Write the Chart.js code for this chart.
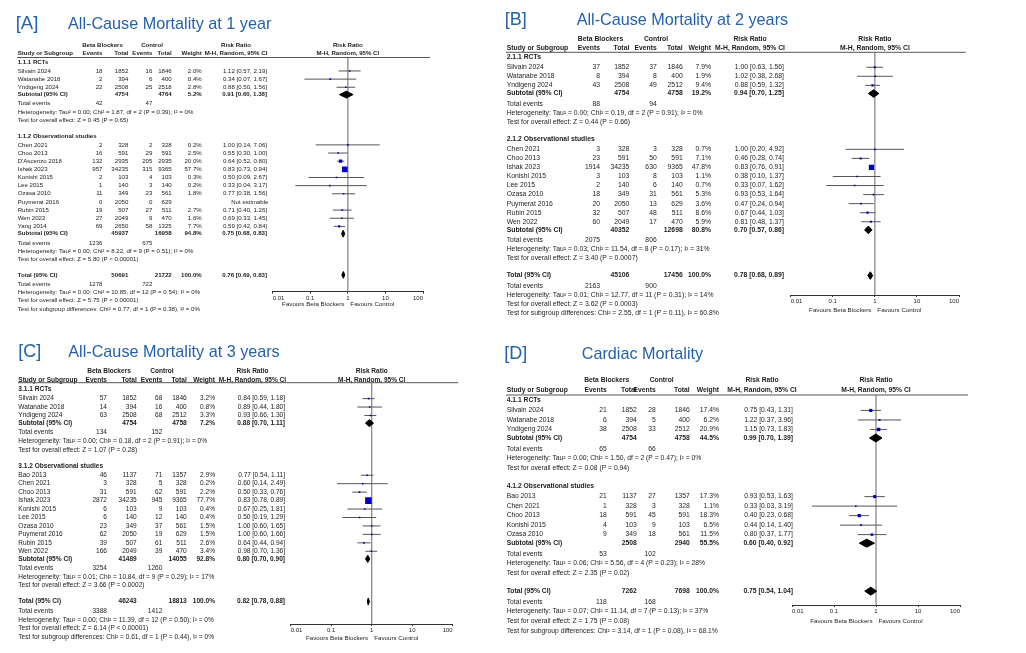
<!DOCTYPE html>
<html lang="en">
<head>
<meta charset="UTF-8">
<title>Beta Blockers - Forest Plots</title>
<script src="https://cdn.jsdelivr.net/npm/chart.js"></script>
<style>
    body {
        margin: 0;
        background: #fff;
        width: 1026px;
        height: 653px;
        position: relative;
        overflow: hidden;
    }
    canvas {
        position: absolute;
    }
</style>
</head>
<body>

<canvas id="panelA" width="500" height="327" style="left:0px;top:0px"></canvas>
<canvas id="panelB" width="526" height="327" style="left:500px;top:0px"></canvas>
<canvas id="panelC" width="500" height="326" style="left:0px;top:327px"></canvas>
<canvas id="panelD" width="526" height="326" style="left:500px;top:327px"></canvas>

<script>
// ---- data ----
// study rows: name, BB events, BB total, control events, control total, weight %, RR, lower, upper, subgroup
// subtotal rows: BB total, control total, weight %, RR, lower, upper, BB events, control events

// [A] All-cause mortality at 1 year
const aGroups = ['1.1.1 RCTs', '1.1.2 Observational studies'];
const aStudies = [
    ['Silvain 2024', 18, 1852, 16, 1846, 2.0, 1.12, 0.57, 2.19, 0],
    ['Watanabe 2018', 2, 394, 6, 400, 0.4, 0.34, 0.07, 1.67, 0],
    ['Yndigeng 2024', 22, 2508, 25, 2518, 2.8, 0.88, 0.50, 1.56, 0],
    ['Chen 2021', 2, 328, 2, 328, 0.2, 1.00, 0.14, 7.06, 1],
    ['Choo 2013', 16, 591, 29, 591, 2.5, 0.55, 0.30, 1.00, 1],
    ["D'Ascenzo 2018", 132, 2935, 205, 2935, 20.0, 0.64, 0.52, 0.80, 1],
    ['Ishak 2023', 957, 34235, 315, 9365, 57.7, 0.83, 0.73, 0.94, 1],
    ['Konishi 2015', 2, 103, 4, 103, 0.3, 0.50, 0.09, 2.67, 1],
    ['Lee 2015', 1, 140, 3, 140, 0.2, 0.33, 0.04, 3.17, 1],
    ['Ozasa 2010', 11, 349, 23, 561, 1.8, 0.77, 0.38, 1.56, 1],
    ['Puymerat 2016', 0, 2050, 0, 629, null, null, null, null, 1],
    ['Rubin 2015', 19, 507, 27, 511, 2.7, 0.71, 0.40, 1.26, 1],
    ['Wen 2022', 27, 2049, 9, 470, 1.6, 0.69, 0.33, 1.45, 1],
    ['Yang 2014', 69, 2650, 58, 1325, 7.7, 0.59, 0.42, 0.84, 1]
];
const aSubtotals = [
    [4754, 4764, 5.2, 0.91, 0.60, 1.38, 42, 47],
    [45937, 16958, 94.8, 0.75, 0.68, 0.83, 1236, 675]
];
const aSubNotes = [
    ['Heterogeneity: Tau² = 0.00; Chi² = 1.87, df = 2 (P = 0.39); I² = 0%', 'Test for overall effect: Z = 0.45 (P = 0.65)'],
    ['Heterogeneity: Tau² = 0.00; Chi² = 8.22, df = 9 (P = 0.51); I² = 0%', 'Test for overall effect: Z = 5.80 (P < 0.00001)']
];
const aTotal = [50691, 21722, 100.0, 0.76, 0.69, 0.83, 1278, 722];
const aTotalNotes = [
    'Heterogeneity: Tau² = 0.00; Chi² = 10.85, df = 12 (P = 0.54); I² = 0%',
    'Test for overall effect: Z = 5.75 (P < 0.00001)',
    'Test for subgroup differences: Chi² = 0.77, df = 1 (P = 0.38), I² = 0%'
];

// [B] All-cause mortality at 2 years
const bGroups = ['2.1.1 RCTs', '2.1.2 Observational studies'];
const bStudies = [
    ['Silvain 2024', 37, 1852, 37, 1846, 7.9, 1.00, 0.63, 1.56, 0],
    ['Watanabe 2018', 8, 394, 8, 400, 1.9, 1.02, 0.38, 2.68, 0],
    ['Yndigeng 2024', 43, 2508, 49, 2512, 9.4, 0.88, 0.59, 1.32, 0],
    ['Chen 2021', 3, 328, 3, 328, 0.7, 1.00, 0.20, 4.92, 1],
    ['Choo 2013', 23, 591, 50, 591, 7.1, 0.46, 0.28, 0.74, 1],
    ['Ishak 2023', 1914, 34235, 630, 9365, 47.8, 0.83, 0.76, 0.91, 1],
    ['Konishi 2015', 3, 103, 8, 103, 1.1, 0.38, 0.10, 1.37, 1],
    ['Lee 2015', 2, 140, 6, 140, 0.7, 0.33, 0.07, 1.62, 1],
    ['Ozasa 2010', 18, 349, 31, 561, 5.3, 0.93, 0.53, 1.64, 1],
    ['Puymerat 2016', 20, 2050, 13, 629, 3.6, 0.47, 0.24, 0.94, 1],
    ['Rubin 2015', 32, 507, 48, 511, 8.6, 0.67, 0.44, 1.03, 1],
    ['Wen 2022', 60, 2049, 17, 470, 5.9, 0.81, 0.48, 1.37, 1]
];
const bSubtotals = [
    [4754, 4758, 19.2, 0.94, 0.70, 1.25, 88, 94],
    [40352, 12698, 80.8, 0.70, 0.57, 0.86, 2075, 806]
];
const bSubNotes = [
    ['Heterogeneity: Tau² = 0.00; Chi² = 0.19, df = 2 (P = 0.91); I² = 0%', 'Test for overall effect: Z = 0.44 (P = 0.66)'],
    ['Heterogeneity: Tau² = 0.03; Chi² = 11.54, df = 8 (P = 0.17); I² = 31%', 'Test for overall effect: Z = 3.40 (P = 0.0007)']
];
const bTotal = [45106, 17456, 100.0, 0.78, 0.68, 0.89, 2163, 900];
const bTotalNotes = [
    'Heterogeneity: Tau² = 0.01; Chi² = 12.77, df = 11 (P = 0.31); I² = 14%',
    'Test for overall effect: Z = 3.62 (P = 0.0003)',
    'Test for subgroup differences: Chi² = 2.55, df = 1 (P = 0.11), I² = 60.8%'
];

// [C] All-cause mortality at 3 years
const cGroups = ['3.1.1 RCTs', '3.1.2 Observational studies'];
const cStudies = [
    ['Silvain 2024', 57, 1852, 68, 1846, 3.2, 0.84, 0.59, 1.18, 0],
    ['Watanabe 2018', 14, 394, 16, 400, 0.8, 0.89, 0.44, 1.80, 0],
    ['Yndigeng 2024', 63, 2508, 68, 2512, 3.3, 0.93, 0.66, 1.30, 0],
    ['Bao 2013', 46, 1137, 71, 1357, 2.9, 0.77, 0.54, 1.11, 1],
    ['Chen 2021', 3, 328, 5, 328, 0.2, 0.60, 0.14, 2.49, 1],
    ['Choo 2013', 31, 591, 62, 591, 2.2, 0.50, 0.33, 0.76, 1],
    ['Ishak 2023', 2872, 34235, 945, 9365, 77.7, 0.83, 0.78, 0.89, 1],
    ['Konishi 2015', 6, 103, 9, 103, 0.4, 0.67, 0.25, 1.81, 1],
    ['Lee 2015', 6, 140, 12, 140, 0.4, 0.50, 0.19, 1.29, 1],
    ['Ozasa 2010', 23, 349, 37, 561, 1.5, 1.00, 0.60, 1.65, 1],
    ['Puymerat 2016', 62, 2050, 19, 629, 1.5, 1.00, 0.60, 1.66, 1],
    ['Rubin 2015', 39, 507, 61, 511, 2.6, 0.64, 0.44, 0.94, 1],
    ['Wen 2022', 166, 2049, 39, 470, 3.4, 0.98, 0.70, 1.36, 1]
];
const cSubtotals = [
    [4754, 4758, 7.2, 0.88, 0.70, 1.11, 134, 152],
    [41489, 14055, 92.8, 0.80, 0.70, 0.90, 3254, 1260]
];
const cSubNotes = [
    ['Heterogeneity: Tau² = 0.00; Chi² = 0.18, df = 2 (P = 0.91); I² = 0%', 'Test for overall effect: Z = 1.07 (P = 0.28)'],
    ['Heterogeneity: Tau² = 0.01; Chi² = 10.84, df = 9 (P = 0.29); I² = 17%', 'Test for overall effect: Z = 3.66 (P = 0.0002)']
];
const cTotal = [46243, 18813, 100.0, 0.82, 0.78, 0.88, 3388, 1412];
const cTotalNotes = [
    'Heterogeneity: Tau² = 0.00; Chi² = 11.39, df = 12 (P = 0.50); I² = 0%',
    'Test for overall effect: Z = 6.14 (P < 0.00001)',
    'Test for subgroup differences: Chi² = 0.61, df = 1 (P = 0.44), I² = 0%'
];

// [D] Cardiac mortality
const dGroups = ['4.1.1 RCTs', '4.1.2 Observational studies'];
const dStudies = [
    ['Silvain 2024', 21, 1852, 28, 1846, 17.4, 0.75, 0.43, 1.31, 0],
    ['Watanabe 2018', 6, 394, 5, 400, 6.2, 1.22, 0.37, 3.96, 0],
    ['Yndigeng 2024', 38, 2508, 33, 2512, 20.9, 1.15, 0.73, 1.83, 0],
    ['Bao 2013', 21, 1137, 27, 1357, 17.3, 0.93, 0.53, 1.63, 1],
    ['Chen 2021', 1, 328, 3, 328, 1.1, 0.33, 0.03, 3.19, 1],
    ['Choo 2013', 18, 591, 45, 591, 18.3, 0.40, 0.23, 0.68, 1],
    ['Konishi 2015', 4, 103, 9, 103, 6.5, 0.44, 0.14, 1.40, 1],
    ['Ozasa 2010', 9, 349, 18, 561, 11.5, 0.80, 0.37, 1.77, 1]
];
const dSubtotals = [
    [4754, 4758, 44.5, 0.99, 0.70, 1.39, 65, 66],
    [2508, 2940, 55.5, 0.60, 0.40, 0.92, 53, 102]
];
const dSubNotes = [
    ['Heterogeneity: Tau² = 0.00; Chi² = 1.50, df = 2 (P = 0.47); I² = 0%', 'Test for overall effect: Z = 0.08 (P = 0.94)'],
    ['Heterogeneity: Tau² = 0.06; Chi² = 5.56, df = 4 (P = 0.23); I² = 28%', 'Test for overall effect: Z = 2.35 (P = 0.02)']
];
const dTotal = [7262, 7698, 100.0, 0.75, 0.54, 1.04, 118, 168];
const dTotalNotes = [
    'Heterogeneity: Tau² = 0.07; Chi² = 11.14, df = 7 (P = 0.13); I² = 37%',
    'Test for overall effect: Z = 1.75 (P = 0.08)',
    'Test for subgroup differences: Chi² = 3.14, df = 1 (P = 0.08), I² = 68.1%'
];

const xTicks = [0.01, 0.1, 1, 10, 100];
const xTickLabels = ['0.01', '0.1', '1', '10', '100'];

// ---- styling ----
const FONT = 'Arial, "Liberation Sans", sans-serif';
const TEXT = '#1c1c1c';
const TITLE_BLUE = '#2461ad';
const BOX_BLUE = '#0000c4';
const CI_GREY = '#555';
const REF_GREY = '#8a8a8a';

// page-pixel layout of each panel
const layoutA = {
    left: 0, top: 0, width: 500, height: 327,
    tag: '[A]', title: 'All-Cause Mortality at 1 year', tagX: 15.7, titleX: 68, titleY: 28.7, tagSize: 18.5,
    hdr1: 45.3, hdr2: 53.3, lineY: 57.5, lineX0: 17, lineX1: 430,
    y0: 62, unit: 8.15, font: 6.1,
    study: 17.7, ev1: 102.5, tot1: 128.3, ev2: 152.3, tot2: 171.7, w: 201.7, rr: 267, bb: 102.5, ctl: 152, rrHead: 236,
    fx0: 272.7, fx1: 423, axisY: 291.7, favY: 304.3
};
const layoutB = {
    left: 500, top: 0, width: 526, height: 327,
    tag: '[B]', title: 'All-Cause Mortality at 2 years', tagX: 504.7, titleX: 576.7, titleY: 24.7, tagSize: 18,
    hdr1: 39, hdr2: 48.3, lineY: 52.3, lineX0: 506, lineX1: 965.7,
    y0: 57.3, unit: 9.05, font: 6.8,
    study: 506.7, ev1: 600, tot1: 629.3, ev2: 656.7, tot2: 682.7, w: 711, rr: 784, bb: 600.5, ctl: 656, rrHead: 750,
    fx0: 790.7, fx1: 959, axisY: 295, favY: 310
};
const layoutC = {
    left: 0, top: 327, width: 500, height: 326,
    tag: '[C]', title: 'All-Cause Mortality at 3 years', tagX: 18.3, titleX: 68.3, titleY: 356.7, tagSize: 18,
    hdr1: 370.7, hdr2: 379.7, lineY: 382.7, lineX0: 18, lineX1: 458.3,
    y0: 389.3, unit: 8.45, font: 6.55,
    study: 18.3, ev1: 107, tot1: 136.7, ev2: 162.3, tot2: 186.7, w: 215, rr: 285, bb: 109, ctl: 162, rrHead: 252.5,
    fx0: 290.7, fx1: 452.7, axisY: 624, favY: 638.3
};
const layoutD = {
    left: 500, top: 327, width: 526, height: 326,
    tag: '[D]', title: 'Cardiac Mortality', tagX: 504.3, titleX: 581.7, titleY: 359.3, tagSize: 18,
    hdr1: 380.3, hdr2: 390, lineY: 395, lineX0: 506, lineX1: 968,
    y0: 400, unit: 9.5, font: 6.75,
    study: 506.7, ev1: 606.7, tot1: 636.7, ev2: 655.7, tot2: 689.7, w: 719, rr: 793, bb: 606.7, ctl: 661.7, rrHead: 762,
    fx0: 792, fx1: 960, axisY: 605, favY: 621
};

// vertical spacing between row kinds, in row units
function gapAfter(prev, type) {
    if (type === 'group') return 1.9;
    if (type === 'total') return 1.88;
    if (type === 'study') return prev === 'group' ? 1.1 : 1;
    if (type === 'subtotal') return 0.9;
    if (type === 'events') return 1.13;
    return 1.02;
}

function buildRows(groups, studies, subs, subNotes, total, totalNotes) {
    const rows = [];
    let u = 0, prev = null;
    const add = (type, extra) => {
        if (prev !== null) u += gapAfter(prev, type);
        rows.push(Object.assign({ type: type, u: u }, extra));
        prev = type;
    };
    const summary = (t) => ({ n1: t[0], n2: t[1], w: t[2], rr: t[3], lo: t[4], hi: t[5] });
    groups.forEach((g, gi) => {
        add('group', { label: g });
        studies.filter(s => s[9] === gi).forEach(s => {
            add('study', { label: s[0], e1: s[1], n1: s[2], e2: s[3], n2: s[4], w: s[5], rr: s[6], lo: s[7], hi: s[8] });
        });
        add('subtotal', Object.assign({ label: 'Subtotal (95% CI)' }, summary(subs[gi])));
        add('events', { e1: subs[gi][6], e2: subs[gi][7] });
        add('note', { label: subNotes[gi][0] });
        add('note', { label: subNotes[gi][1] });
    });
    add('total', Object.assign({ label: 'Total (95% CI)' }, summary(total)));
    add('events', { e1: total[6], e2: total[7] });
    totalNotes.forEach(n => add('note', { label: n }));
    return rows;
}

function rrText(r) {
    if (r.rr == null) return 'Not estimable';
    return r.rr.toFixed(2) + ' [' + r.lo.toFixed(2) + ', ' + r.hi.toFixed(2) + ']';
}

function makePanel(canvasId, L, rows) {
    const yMin = (L.lineY - L.y0) / L.unit;
    const yMax = (L.axisY - L.y0) / L.unit;

    const datasets = [];
    // line of no effect
    datasets.push({
        type: 'line', data: [{ x: 1, y: yMin }, { x: 1, y: yMax }],
        borderColor: REF_GREY, borderWidth: 1.3, pointRadius: 0, order: 3
    });
    const boxes = [], boxR = [];
    rows.forEach(r => {
        if (r.type === 'study' && r.rr != null) {
            datasets.push({
                type: 'line', data: [{ x: r.lo, y: r.u }, { x: r.hi, y: r.u }],
                borderColor: CI_GREY, borderWidth: 1, pointRadius: 0, order: 2
            });
            boxes.push({ x: r.rr, y: r.u });
            // box side grows with sqrt(weight)
            boxR.push(Math.max(1.6, 0.75 * Math.sqrt(r.w)) / Math.SQRT2);
        }
        if (r.type === 'subtotal' || r.type === 'total') {
            const h = 0.42;
            datasets.push({
                type: 'line',
                data: [{ x: r.lo, y: r.u }, { x: r.rr, y: r.u - h }, { x: r.hi, y: r.u }, { x: r.rr, y: r.u + h }, { x: r.lo, y: r.u }],
                borderColor: '#000', backgroundColor: '#000', borderWidth: 1, pointRadius: 0,
                fill: 'shape', tension: 0, order: 1
            });
        }
    });
    datasets.push({
        type: 'scatter', data: boxes, pointStyle: 'rect', pointRadius: boxR,
        backgroundColor: BOX_BLUE, borderWidth: 0, order: 0
    });

    const tablePlugin = {
        id: 'tableText',
        afterDraw(chart) {
            const ctx = chart.ctx;
            const ys = chart.scales.y;
            const xs = chart.scales.x;
            const ox = L.left, oy = L.top;
            const put = (s, x, y, align, bold, size, color) => {
                ctx.font = (bold ? 'bold ' : '') + size + 'px ' + FONT;
                ctx.textAlign = align;
                ctx.textBaseline = 'middle';
                ctx.fillStyle = color || TEXT;
                ctx.fillText(s, x - ox, y);
            };
            ctx.save();

            // titles
            ctx.font = L.tagSize + 'px ' + FONT;
            ctx.textAlign = 'left';
            ctx.textBaseline = 'alphabetic';
            ctx.fillStyle = TITLE_BLUE;
            ctx.fillText(L.tag, L.tagX - ox, L.titleY - oy);
            ctx.font = '16.2px ' + FONT;
            ctx.fillText(L.title, L.titleX - ox, L.titleY - oy);

            // column headers
            const f = L.font;
            const h1 = L.hdr1 - oy, h2 = L.hdr2 - oy;
            const fCenter = (L.fx0 + L.fx1) / 2;
            put('Beta Blockers', L.bb, h1, 'center', true, f);
            put('Control', L.ctl, h1, 'center', true, f);
            put('Risk Ratio', L.rrHead, h1, 'center', true, f);
            put('Risk Ratio', fCenter, h1, 'center', true, f);
            put('Study or Subgroup', L.study, h2, 'left', true, f);
            put('Events', L.ev1, h2, 'right', true, f);
            put('Total', L.tot1, h2, 'right', true, f);
            put('Events', L.ev2, h2, 'right', true, f);
            put('Total', L.tot2, h2, 'right', true, f);
            put('Weight', L.w, h2, 'right', true, f);
            put('M-H, Random, 95% CI', L.rrHead, h2, 'center', true, f);
            put('M-H, Random, 95% CI', fCenter, h2, 'center', true, f);

            ctx.strokeStyle = '#555';
            ctx.lineWidth = 1;
            ctx.beginPath();
            ctx.moveTo(L.lineX0 - ox, L.lineY - oy);
            ctx.lineTo(L.lineX1 - ox, L.lineY - oy);
            ctx.stroke();

            // table rows
            rows.forEach(r => {
                const y = ys.getPixelForValue(r.u);
                if (r.type === 'group') {
                    put(r.label, L.study, y, 'left', true, f);
                } else if (r.type === 'study') {
                    put(r.label, L.study, y, 'left', false, f);
                    put(String(r.e1), L.ev1, y, 'right', false, f);
                    put(String(r.n1), L.tot1, y, 'right', false, f);
                    put(String(r.e2), L.ev2, y, 'right', false, f);
                    put(String(r.n2), L.tot2, y, 'right', false, f);
                    if (r.w != null) put(r.w.toFixed(1) + '%', L.w, y, 'right', false, f);
                    put(rrText(r), L.rr + (r.rr == null ? 1.5 : 0), y, 'right', false, f);
                } else if (r.type === 'subtotal' || r.type === 'total') {
                    put(r.label, L.study, y, 'left', true, f);
                    put(String(r.n1), L.tot1, y, 'right', true, f);
                    put(String(r.n2), L.tot2, y, 'right', true, f);
                    put(r.w.toFixed(1) + '%', L.w, y, 'right', true, f);
                    put(rrText(r), L.rr, y, 'right', true, f);
                } else if (r.type === 'events') {
                    put('Total events', L.study, y, 'left', false, f);
                    put(String(r.e1), L.ev1, y, 'right', false, f);
                    put(String(r.e2), L.ev2, y, 'right', false, f);
                } else {
                    put(r.label, L.study, y, 'left', false, f);
                }
            });

            // favours labels under the axis
            const x1 = xs.getPixelForValue(1) + ox;
            put('Favours Beta Blockers', x1 - 3.5, L.favY - oy, 'right', false, 6.2);
            put('Favours Control', x1 + 2.5, L.favY - oy, 'left', false, 6.2);
            ctx.restore();
        }
    };

    return new Chart(document.getElementById(canvasId), {
        type: 'scatter',
        data: { datasets: datasets },
        options: {
            responsive: false,
            animation: false,
            devicePixelRatio: 1,
            layout: {
                padding: {
                    left: L.fx0 - L.left,
                    right: L.left + L.width - L.fx1,
                    top: L.lineY - L.top,
                    bottom: 0
                }
            },
            plugins: { legend: { display: false }, tooltip: { enabled: false } },
            scales: {
                x: {
                    type: 'logarithmic',
                    min: 0.01,
                    max: 100,
                    afterBuildTicks: (scale) => { scale.ticks = xTicks.map(v => ({ value: v })); },
                    afterFit: (scale) => { scale.height = L.top + L.height - L.axisY; },
                    ticks: {
                        callback: (v) => xTickLabels[xTicks.indexOf(v)],
                        font: { family: FONT, size: 6 },
                        color: TEXT,
                        align: 'inner',
                        padding: 1,
                        maxRotation: 0,
                        minRotation: 0,
                        autoSkip: false
                    },
                    grid: { drawOnChartArea: false, drawTicks: true, tickLength: 2, color: '#333', lineWidth: 1 },
                    border: { display: true, color: '#333', width: 1 }
                },
                y: { type: 'linear', display: false, reverse: true, min: yMin, max: yMax }
            }
        },
        plugins: [tablePlugin]
    });
}

makePanel('panelA', layoutA, buildRows(aGroups, aStudies, aSubtotals, aSubNotes, aTotal, aTotalNotes));
makePanel('panelB', layoutB, buildRows(bGroups, bStudies, bSubtotals, bSubNotes, bTotal, bTotalNotes));
makePanel('panelC', layoutC, buildRows(cGroups, cStudies, cSubtotals, cSubNotes, cTotal, cTotalNotes));
makePanel('panelD', layoutD, buildRows(dGroups, dStudies, dSubtotals, dSubNotes, dTotal, dTotalNotes));
</script>

</body>
</html>
